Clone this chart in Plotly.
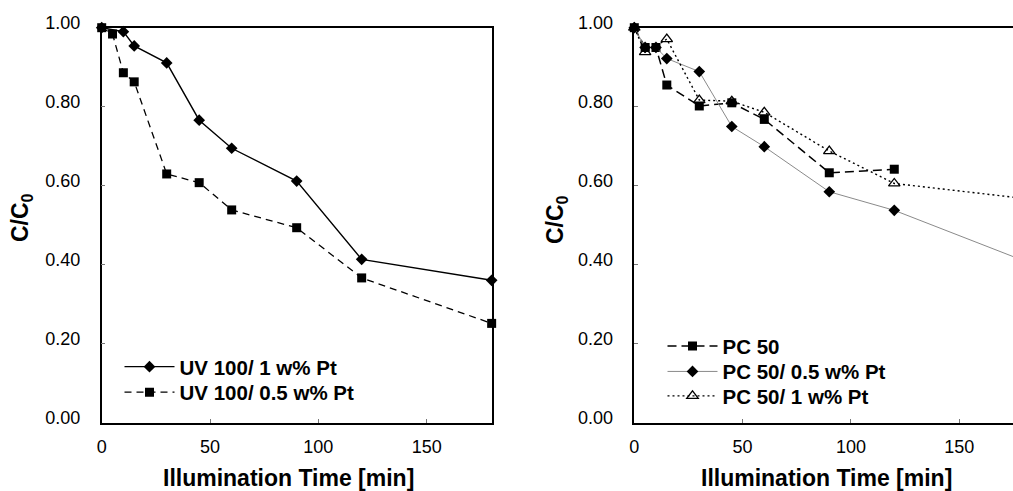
import plotly.graph_objects as go

W, H = 1013, 491

# ---- data (left panel) ----
t_uv1 = [0, 10, 15, 30, 45, 60, 90, 120, 180]
c_uv1 = [1.00, 0.99, 0.954, 0.911, 0.766, 0.695, 0.612, 0.414, 0.361]
t_uv05 = [0, 5, 10, 15, 30, 45, 60, 90, 120, 180]
c_uv05 = [1.00, 0.984, 0.886, 0.863, 0.630, 0.608, 0.539, 0.494, 0.367, 0.252]

# ---- data (right panel) ----
t_pc = [0, 5, 10, 15, 30, 45, 60, 90, 120]
c_pc = [1.00, 0.95, 0.95, 0.855, 0.802, 0.81, 0.768, 0.633, 0.642]
t_pc05 = [0, 5, 10, 15, 30, 45, 60, 90, 120, 180]
c_pc05 = [1.00, 0.95, 0.95, 0.922, 0.889, 0.75, 0.699, 0.585, 0.538, 0.41]
t_pc1 = [0, 5, 15, 30, 45, 60, 90, 120, 180]
c_pc1 = [1.00, 0.938, 0.971, 0.817, 0.814, 0.786, 0.688, 0.606, 0.568]

names_left = ["UV 100/ 1 w% Pt", "UV 100/ 0.5 w% Pt"]
names_right = ["PC 50", "PC 50/ 0.5 w% Pt", "PC 50/ 1 w% Pt"]
x_ticks = [0, 50, 100, 150]
y_ticks = [0.0, 0.2, 0.4, 0.6, 0.8, 1.0]

FONT = "Liberation Sans, Arial, sans-serif"

fig = go.Figure()

fig.add_trace(go.Scatter(x=t_uv1, y=c_uv1, name=names_left[0], mode="lines+markers",
                         line=dict(color="black", width=1.4),
                         marker=dict(symbol="diamond", size=9, color="black"),
                         xaxis="x", yaxis="y", legend="legend", cliponaxis=False))
fig.add_trace(go.Scatter(x=t_uv05, y=c_uv05, name=names_left[1], mode="lines+markers",
                         line=dict(color="black", width=1.3, dash="7px,5px"),
                         marker=dict(symbol="square", size=9, color="black"),
                         xaxis="x", yaxis="y", legend="legend2", cliponaxis=False))

fig.add_trace(go.Scatter(x=t_pc, y=c_pc, name=names_right[0], mode="lines+markers",
                         line=dict(color="black", width=1.5, dash="9px,5px"),
                         marker=dict(symbol="square", size=9, color="black"),
                         xaxis="x2", yaxis="y2", legend="legend3", cliponaxis=False))
fig.add_trace(go.Scatter(x=t_pc05, y=c_pc05, name=names_right[1], mode="lines+markers",
                         line=dict(color="#8a8a8a", width=1),
                         marker=dict(symbol="diamond", size=9, color="black"),
                         xaxis="x2", yaxis="y2", legend="legend4", cliponaxis=False))
fig.add_trace(go.Scatter(x=t_pc1, y=c_pc1, name=names_right[2], mode="lines+markers",
                         line=dict(color="black", width=1.4, dash="2px,3px"),
                         marker=dict(symbol="triangle-up-open", size=10, color="black",
                                     line=dict(width=1.3, color="black")),
                         xaxis="x2", yaxis="y2", legend="legend5", cliponaxis=False))

def px_x(p):
    return p / W

def px_y(p):
    return 1 - p / H

axis_common = dict(showgrid=False, zeroline=False, showline=True, linecolor="black",
                   linewidth=1.5, ticks="inside", ticklen=4, tickcolor="#777",
                   automargin=False,
                   tickfont=dict(family=FONT, size=18, color="black"))

ydom = [px_y(423), px_y(27.7)]

ITEMW = 50

def leg(text_x, item_y):
    return dict(x=px_x(text_x - ITEMW - 11.5), y=px_y(item_y), xanchor="left", yanchor="middle",
                bgcolor="rgba(0,0,0,0)", borderwidth=0,
                font=dict(family=FONT, size=20.5, color="black", weight="bold"),
                itemwidth=ITEMW)

fig.update_layout(
    width=W, height=H,
    margin=dict(l=0, r=0, t=0, b=0, autoexpand=False),
    paper_bgcolor="white", plot_bgcolor="white",
    font=dict(family=FONT, color="black"),
    xaxis=dict(domain=[px_x(101.7), px_x(492.3)], range=[0, 180.3], tickvals=x_ticks,
               mirror=True, anchor="y", ticklabelstandoff=7, **axis_common),
    yaxis=dict(domain=ydom, range=[0, 1], tickvals=y_ticks, tickformat=".2f",
               mirror=True, anchor="x", ticklabelstandoff=16, ticklabelshift=-5, **axis_common),
    xaxis2=dict(domain=[px_x(634.3), 1.0], range=[0, 174.8], tickvals=x_ticks,
                mirror=True, anchor="y2", ticklabelstandoff=7, **axis_common),
    yaxis2=dict(domain=ydom, range=[0, 1], tickvals=y_ticks, tickformat=".2f",
                mirror=False, anchor="x2", ticklabelstandoff=16, ticklabelshift=-5, **axis_common),
    legend=leg(181, 366.8),
    legend2=leg(181, 392.3),
    legend3=leg(724, 346.2),
    legend4=leg(724, 371.6),
    legend5=leg(724, 396),
    showlegend=True,
)

title_font = dict(family=FONT, size=23, color="black")
annotations = [
    dict(text="<b>Illumination Time [min]</b>", x=px_x(288), y=px_y(478), xref="paper", yref="paper",
         xanchor="center", yanchor="middle", showarrow=False, font=title_font),
    dict(text="<b>Illumination Time [min]</b>", x=px_x(826), y=px_y(478), xref="paper", yref="paper",
         xanchor="center", yanchor="middle", showarrow=False, font=title_font),
    dict(text="<b>C/C<sub>0</sub></b>", x=px_x(22), y=px_y(218), xref="paper", yref="paper",
         xanchor="center", yanchor="middle", showarrow=False, textangle=-90, font=title_font),
    dict(text="<b>C/C<sub>0</sub></b>", x=px_x(556), y=px_y(220), xref="paper", yref="paper",
         xanchor="center", yanchor="middle", showarrow=False, textangle=-90, font=title_font),
]
fig.update_layout(annotations=annotations)

fig.write_html("out.html", config={"displayModeBar": False},
               post_script="document.body.style.margin='0';document.body.style.overflow='hidden';")
